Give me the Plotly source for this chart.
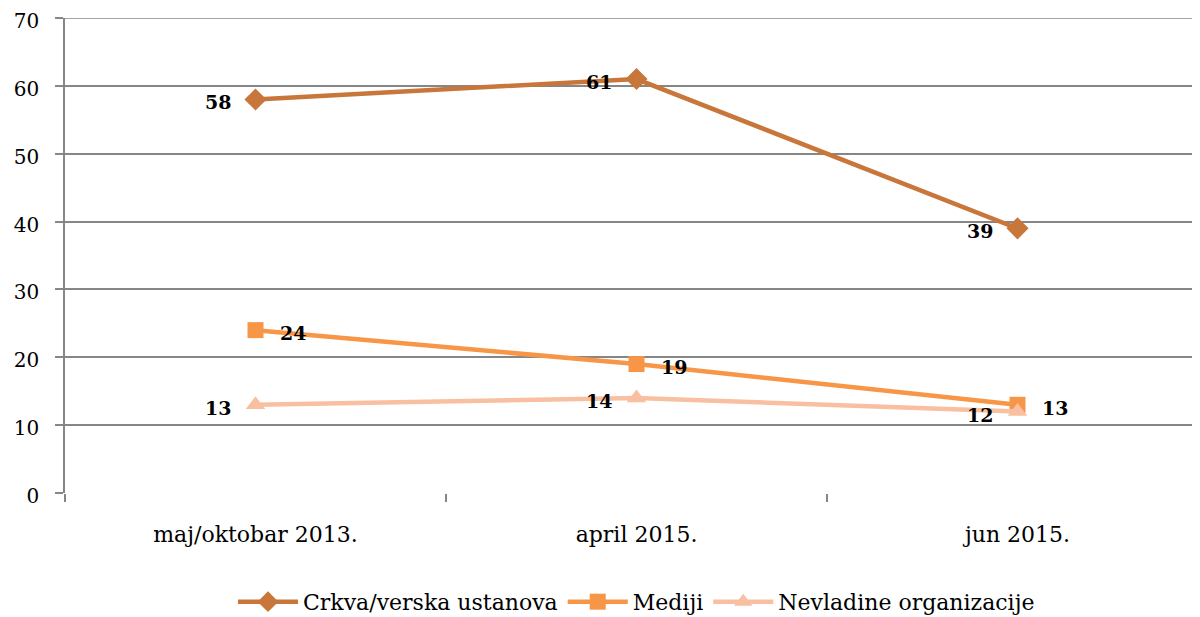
import plotly.graph_objects as go

categories = ["maj/oktobar 2013.", "april 2015.", "jun 2015."]
crkva = [58, 61, 39]
mediji = [24, 19, 13]
nevladine = [13, 14, 12]
series_names = ["Crkva/verska ustanova", "Mediji", "Nevladine organizacije"]
y_ticks = [0, 10, 20, 30, 40, 50, 60, 70]

FONT = "DejaVu Serif"
xs = list(range(len(categories)))

series = [
    (series_names[0], crkva, "#C8763A", "diamond", 17, -38),
    (series_names[1], mediji, "#F79646", "square", 16, 37),
    (series_names[2], nevladine, "#F8BFA0", "triangle-up", 17, -38),
]

fig = go.Figure()
# top gridline (at the upper end of the value axis)
fig.add_shape(type="line", xref="paper", x0=0, x1=1, yref="y", y0=y_ticks[-1], y1=y_ticks[-1],
              line=dict(color="#868686", width=1.5), layer="below")
for name, vals, color, sym, msize, xshift in series:
    fig.add_trace(go.Scatter(
        x=xs, y=vals, name=name, mode="lines+markers",
        line=dict(color=color, width=4.5),
        marker=dict(symbol=sym, size=msize, color=color),
        cliponaxis=False,
    ))
    for xv, yv in zip(xs, vals):
        fig.add_annotation(
            x=xv, y=yv, text=f"<b>{yv}</b>", showarrow=False,
            xanchor="center", yanchor="middle", xshift=xshift, yshift=-3,
            font=dict(family=FONT, size=19, color="black"),
        )

fig.update_layout(
    width=1200, height=617,
    margin=dict(l=57, r=0, t=10, b=132, autoexpand=False),
    plot_bgcolor="white", paper_bgcolor="white",
    font=dict(family=FONT, size=19, color="black"),
    showlegend=True,
    legend=dict(orientation="h", x=0.5, xanchor="center", y=-0.185, yanchor="top",
                font=dict(family=FONT, size=22), itemwidth=60, traceorder="normal"),
    xaxis=dict(
        range=[-0.5, 2.5], tickmode="array", tickvals=xs, ticktext=categories,
        ticks="", showgrid=False, zeroline=False, showline=False, automargin=False,
        tickfont=dict(family=FONT, size=22), ticklabelstandoff=26,
        minor=dict(tick0=-0.5, dtick=1, ticks="outside", ticklen=8, tickcolor="#868686",
                   tickwidth=1.5, showgrid=False),
    ),
    yaxis=dict(
        range=[0, 70], tickmode="array", tickvals=y_ticks, ticks="outside", ticklen=8,
        tickcolor="#868686", tickwidth=1.5, showgrid=True, gridcolor="#868686", gridwidth=1.5,
        zeroline=False, showline=True, linecolor="#868686", linewidth=1.5, automargin=False,
        tickfont=dict(family=FONT, size=20), ticklabelstandoff=12,
        ticklabeloverflow="allow", ticklabelshift=3,
    ),
)
fig.write_html("out.html")
